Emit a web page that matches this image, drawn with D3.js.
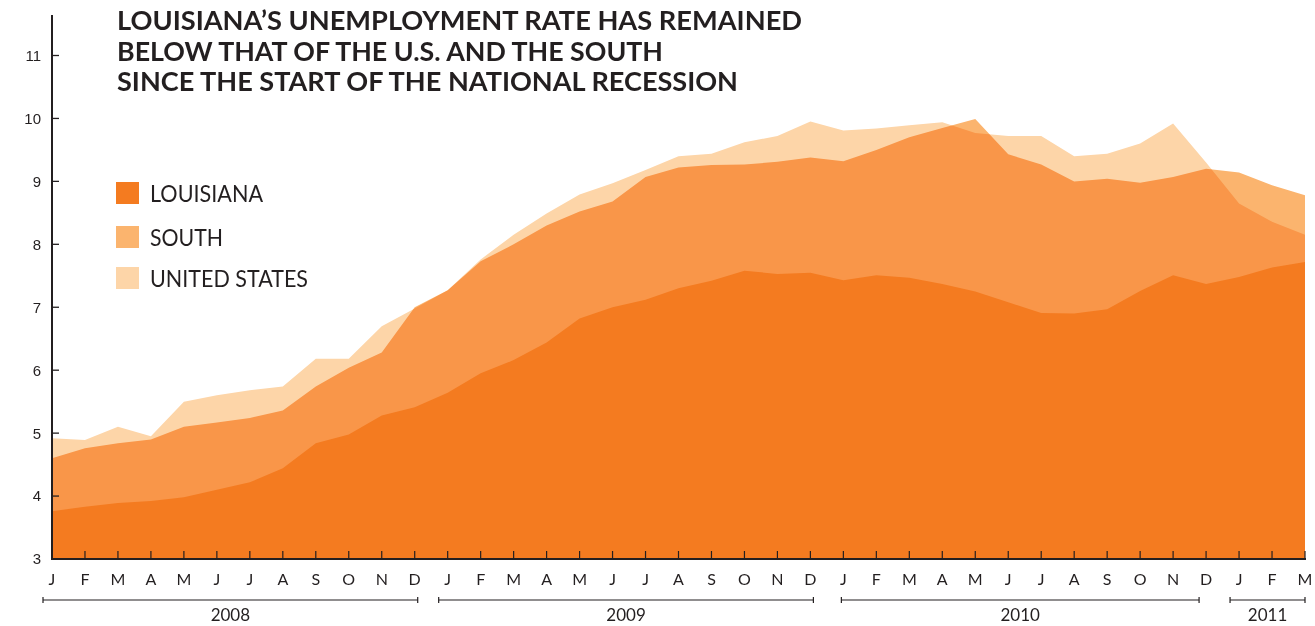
<!DOCTYPE html>
<html>
<head>
<meta charset="utf-8">
<script src="https://cdn.jsdelivr.net/npm/d3@7"></script>
<style>
  body { margin: 0; background: #fff; }
  svg { display: block; }
  .south-area { mix-blend-mode: multiply; }
</style>
</head>
<body>
<div class="chart"></div>
<script>
// monthly unemployment rate (%), Jan 2008 - Mar 2011
const years = ['2008', '2009', '2010', '2011'];
const monthsPerYear = [12, 12, 12, 3];
const monthLetters = ['J', 'F', 'M', 'A', 'M', 'J', 'J', 'A', 'S', 'O', 'N', 'D'];

const louisiana = [3.76, 3.83, 3.89, 3.92, 3.98, 4.10, 4.22, 4.44, 4.84, 4.98, 5.28, 5.41,
                   5.64, 5.95, 6.16, 6.44, 6.82, 7.00, 7.12, 7.30, 7.42, 7.58, 7.53, 7.55,
                   7.43, 7.51, 7.47, 7.37, 7.25, 7.08, 6.91, 6.90, 6.97, 7.26, 7.51, 7.37,
                   7.48, 7.63, 7.72];
const south = [4.60, 4.76, 4.84, 4.90, 5.10, 5.17, 5.24, 5.36, 5.74, 6.04, 6.28, 7.00,
               7.27, 7.73, 8.00, 8.30, 8.52, 8.68, 9.07, 9.22, 9.26, 9.27, 9.31, 9.38,
               9.32, 9.50, 9.70, 9.85, 9.99, 9.43, 9.27, 9.00, 9.04, 8.98, 9.07, 9.20,
               9.14, 8.94, 8.78];
const unitedStates = [4.92, 4.89, 5.10, 4.95, 5.50, 5.60, 5.68, 5.74, 6.18, 6.18, 6.70, 6.98,
                      7.27, 7.76, 8.15, 8.49, 8.79, 8.97, 9.18, 9.40, 9.44, 9.62, 9.72, 9.95,
                      9.81, 9.84, 9.89, 9.94, 9.77, 9.72, 9.72, 9.40, 9.44, 9.60, 9.92, 9.30,
                      8.65, 8.36, 8.15];
const yTicks = [3, 4, 5, 6, 7, 8, 9, 10, 11];

const titleLines = ['LOUISIANA\u2019S UNEMPLOYMENT RATE HAS REMAINED',
                    'BELOW THAT OF THE U.S. AND THE SOUTH',
                    'SINCE THE START OF THE NATIONAL RECESSION'];
const legendNames = ['LOUISIANA', 'SOUTH', 'UNITED STATES'];
const legendColors = ['#f47b20', '#fbb46e', '#fdd5a8'];

const svgWidth = 1315, svgHeight = 626;
const ink = '#231f20';

// build month keys (unique) so scalePoint can place them
const monthKeys = [], monthLabel = [], yearOf = [];
years.forEach((yr, yi) => {
    for (let m = 0; m < monthsPerYear[yi]; m++) {
        monthKeys.push(yr + '-' + m);
        monthLabel.push(monthLetters[m]);
        yearOf.push(yi);
    }
});

const xScale = d3.scalePoint().domain(monthKeys).range([52, 1305]);
const yScale = d3.scaleLinear().domain([3, 11]).range([559, 55.5]);

const svg = d3.select('.chart').append('svg')
    .attr('width', svgWidth)
    .attr('height', svgHeight);

const areaOf = values => d3.area()
    .x((d, i) => xScale(monthKeys[i]))
    .y0(yScale(3))
    .y1(d => yScale(d))(values);

// areas: US behind, South multiplied over it, Louisiana on top
svg.append('path').attr('d', areaOf(unitedStates)).attr('fill', '#fdd5a8');
svg.append('path').attr('d', areaOf(south)).attr('fill', '#fbb46e').classed('south-area', true);
svg.append('path').attr('d', areaOf(louisiana)).attr('fill', '#f47b20');

// y axis
svg.append('line')
    .attr('x1', 52).attr('x2', 52)
    .attr('y1', 15).attr('y2', 560)
    .attr('stroke', ink).attr('stroke-width', 2);

const yAxis = svg.append('g');
yTicks.forEach(t => {
    yAxis.append('line')
        .attr('x1', 52).attr('x2', 59)
        .attr('y1', yScale(t)).attr('y2', yScale(t))
        .attr('stroke', ink).attr('stroke-width', 1.3);
    yAxis.append('text')
        .attr('x', 41).attr('y', yScale(t))
        .attr('dy', '0.36em')
        .attr('text-anchor', 'end')
        .attr('font-family', 'Liberation Sans, Arial, sans-serif')
        .attr('font-size', 15)
        .attr('fill', ink)
        .text(t);
});

// x axis
svg.append('line')
    .attr('x1', 51).attr('x2', 1306)
    .attr('y1', 559).attr('y2', 559)
    .attr('stroke', ink).attr('stroke-width', 2.2);

const xAxis = svg.append('g');
monthKeys.forEach((k, i) => {
    const x = xScale(k);
    if (i > 0) {
        xAxis.append('line')
            .attr('x1', x).attr('x2', x)
            .attr('y1', 559).attr('y2', 551)
            .attr('stroke', ink).attr('stroke-width', 1.2);
    }
    xAxis.append('text')
        .attr('x', x).attr('y', 585)
        .attr('text-anchor', 'middle')
        .attr('font-family', 'Lato, sans-serif')
        .attr('font-size', 16)
        .attr('fill', ink)
        .text(monthLabel[i]);
});

// year brackets
years.forEach((yr, yi) => {
    const keys = monthKeys.filter((k, i) => yearOf[i] === yi);
    const x0 = xScale(keys[0]) - (yi === 2 ? 2 : 9);
    const x1 = yi === years.length - 1 ? 1305 : xScale(keys[keys.length - 1]) + (yi === 2 ? -7 : 3);
    const g = svg.append('g').attr('stroke', ink).attr('stroke-width', 1.2);
    g.append('line').attr('x1', x0).attr('x2', x1).attr('y1', 600).attr('y2', 600);
    g.append('line').attr('x1', x0).attr('x2', x0).attr('y1', 597).attr('y2', 603);
    g.append('line').attr('x1', x1).attr('x2', x1).attr('y1', 597).attr('y2', 603);
    svg.append('text')
        .attr('x', (x0 + x1) / 2).attr('y', 621)
        .attr('text-anchor', 'middle')
        .attr('font-family', 'Lato, sans-serif')
        .attr('font-size', 17)
        .attr('fill', ink)
        .text(yr);
});

// title
const titleWidths = [685, 546, 621];
titleLines.forEach((line, i) => {
    svg.append('text')
        .attr('x', 117).attr('y', 30 + i * 30.5)
        .attr('font-family', 'Lato, sans-serif')
        .attr('font-weight', 700)
        .attr('font-size', 26)
        .attr('fill', ink)
        .attr('textLength', titleWidths[i])
        .attr('lengthAdjust', 'spacingAndGlyphs')
        .text(line);
});

// legend
const legendY = [182, 226, 267];
const legendWidths = [113, 73, 158];
legendNames.forEach((name, i) => {
    svg.append('rect')
        .attr('x', 116).attr('y', legendY[i])
        .attr('width', 23).attr('height', 22)
        .attr('fill', legendColors[i]);
    svg.append('text')
        .attr('x', 150).attr('y', legendY[i] + 20)
        .attr('font-family', 'Lato, sans-serif')
        .attr('font-size', 23)
        .attr('fill', ink)
        .attr('textLength', legendWidths[i])
        .attr('lengthAdjust', 'spacingAndGlyphs')
        .text(name);
});
</script>
</body>
</html>
